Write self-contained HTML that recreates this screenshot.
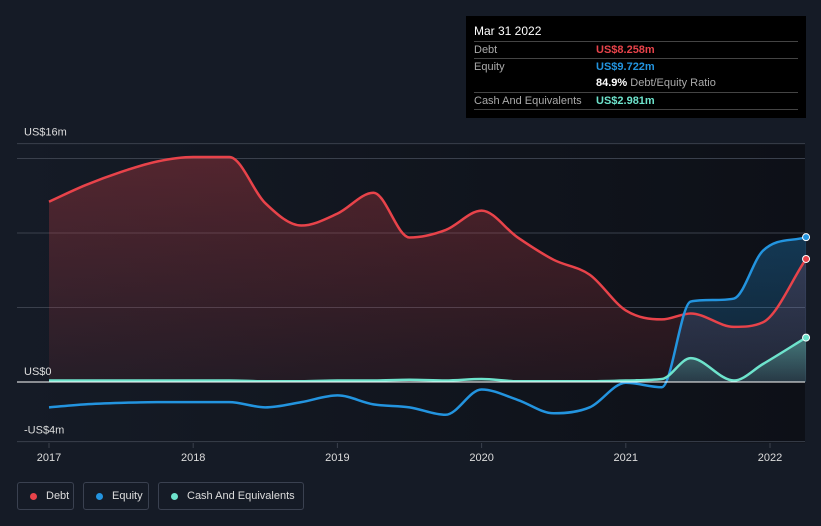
<!DOCTYPE html>
<html><head><meta charset="utf-8"><style>
body{margin:0;background:#151b26;width:821px;height:526px;overflow:hidden;font-family:"Liberation Sans",sans-serif}
#tip{position:absolute;left:466px;top:16px;width:340px;height:102px;background:#000;color:#fff;font-size:11px}
.row{position:absolute;left:8px;width:324px;border-top:1px solid #444;height:16px}
.row span{position:absolute;top:2px}
.leg{position:absolute;top:482px;height:28px;border:1px solid #3a4150;border-radius:3px;color:#ddd;font-size:11px;box-sizing:border-box}
.leg i{position:absolute;left:12px;top:10px;width:7px;height:7px;border-radius:50%}
.leg span{position:absolute;left:28px;top:7px}
</style></head><body>
<svg id="chart" width="821" height="526" style="position:absolute;left:0;top:0">
<defs>
<linearGradient id="gd" x1="0" y1="0" x2="0" y2="1"><stop offset="0" stop-color="#e8434a" stop-opacity="0.3"/><stop offset="1" stop-color="#e8434a" stop-opacity="0.08"/></linearGradient>
<linearGradient id="ge" x1="0" y1="0" x2="0" y2="1"><stop offset="0" stop-color="#2394df" stop-opacity="0.3"/><stop offset="1" stop-color="#2394df" stop-opacity="0.1"/></linearGradient>
<linearGradient id="gc" x1="0" y1="0" x2="0" y2="1"><stop offset="0" stop-color="#6ee3cc" stop-opacity="0.4"/><stop offset="1" stop-color="#6ee3cc" stop-opacity="0.1"/></linearGradient>
<linearGradient id="bg" x1="0" y1="0" x2="1" y2="0"><stop offset="0" stop-color="#151b26"/><stop offset="1" stop-color="#0d1017"/></linearGradient>
<clipPath id="pos"><rect x="0" y="0" width="821" height="382"/></clipPath>
</defs>
<rect x="17" y="143" width="788" height="300" fill="url(#bg)"/>
<g id="grid"></g><g id="areas" clip-path="url(#pos)"></g><g id="lines"></g><g id="axes"></g>
</svg>
<div id="tip">
<div style="position:absolute;left:8px;top:8px;font-size:12px">Mar 31 2022</div>
<div class="row" style="top:25px"><span style="color:#aaa">Debt</span><span style="left:122px;color:#e8434a;font-weight:bold">US$8.258m</span></div>
<div class="row" style="top:42px"><span style="color:#aaa">Equity</span><span style="left:122px;color:#2394df;font-weight:bold">US$9.722m</span></div>
<div class="row" style="top:59px;border-top:none"><span style="left:122px"><b>84.9%</b> <span style="position:static;color:#aaa">Debt/Equity Ratio</span></span></div>
<div class="row" style="top:76px"><span style="color:#aaa">Cash And Equivalents</span><span style="left:122px;color:#6ee3cc;font-weight:bold">US$2.981m</span></div>
<div class="row" style="top:93px;height:0"></div>
</div>
<div class="leg" style="left:17px;width:57px"><i style="background:#e8434a"></i><span>Debt</span></div>
<div class="leg" style="left:83px;width:66px"><i style="background:#2394df"></i><span>Equity</span></div>
<div class="leg" style="left:158px;width:146px"><i style="background:#6ee3cc"></i><span>Cash And Equivalents</span></div>
<script>
const times=[2017,2017.25,2017.5,2017.75,2018,2018.25,2018.5,2018.75,2019,2019.25,2019.5,2019.75,2020,2020.25,2020.5,2020.75,2021,2021.25,2021.45,2021.75,2021.95,2022.25];
const debt=[12.1,13.2,14.1,14.8,15.1,15.1,12.0,10.5,11.3,12.7,9.7,10.2,11.5,9.7,8.2,7.2,4.8,4.2,4.6,3.7,4.0,8.258];
const equity=[-1.7,-1.5,-1.4,-1.35,-1.35,-1.35,-1.7,-1.35,-0.9,-1.5,-1.7,-2.2,-0.5,-1.2,-2.1,-1.7,-0.05,-0.35,5.4,5.6,8.8,9.722];
const cash=[0.1,0.1,0.1,0.1,0.1,0.1,0.05,0.05,0.1,0.1,0.15,0.1,0.2,0.05,0.05,0.05,0.1,0.2,1.6,0.1,1.2,2.981];
const yTicks=[-4,0,16];const yTickLabels=["-US$4m","US$0","US$16m"];
const gridVals=[5,10,15,16];
const xTicks=[2017,2018,2019,2020,2021,2022];
const X=t=>49+(t-2017)*144.2, Y=v=>382-v*14.9;
const NS='http://www.w3.org/2000/svg';
function mk(tag,attrs,parent){const e=document.createElementNS(NS,tag);for(const k in attrs)e.setAttribute(k,attrs[k]);document.getElementById(parent).appendChild(e);return e;}
function path(vals){const p=vals.map((v,i)=>[X(times[i]),Y(v)]);const n=p.length;const m=[];
 const d=[];for(let i=0;i<n-1;i++)d.push((p[i+1][1]-p[i][1])/(p[i+1][0]-p[i][0]));
 for(let i=0;i<n;i++){if(i==0)m.push(d[0]);else if(i==n-1)m.push(d[n-2]);else if(d[i-1]*d[i]<=0)m.push(0);else{const a=d[i-1],b=d[i];let s=(a+b)/2;const lim=3*Math.min(Math.abs(a),Math.abs(b));if(Math.abs(s)>lim)s=Math.sign(s)*lim;m.push(s);}}
 let s='M'+p[0][0]+','+p[0][1];for(let i=0;i<n-1;i++){const h=(p[i+1][0]-p[i][0])/3;s+=` C${p[i][0]+h},${p[i][1]+m[i]*h} ${p[i+1][0]-h},${p[i+1][1]-m[i+1]*h} ${p[i+1][0]},${p[i+1][1]}`;}return s;}
gridVals.forEach(v=>{const g=mk('line',{x1:17,x2:805,y1:Y(v),y2:Y(v),stroke:'#3a404c','stroke-width':1},'grid');});
const b=mk('line',{x1:17,x2:805,y1:Y(-4),y2:Y(-4),stroke:'#3a404c'},'grid');
const series=[[debt,'#e8434a','url(#gd)','debt'],[equity,'#2394df','url(#ge)','equity'],[cash,'#6ee3cc','url(#gc)','cash']];
const x0=X(times[0]),x1=X(times[times.length-1]);
series.forEach(s=>{const p=path(s[0]);
 const a=mk('path',{d:p+` L${x1},${Y(0)} L${x0},${Y(0)} Z`,fill:s[2]},'areas');
 const l=mk('path',{d:p,fill:'none',stroke:s[1],'stroke-width':2.5},'lines');
 const c=mk('circle',{cx:x1,cy:Y(s[0][s[0].length-1]),r:3.5,fill:s[1],stroke:'#fff','stroke-width':1},'lines');});
const z=mk('line',{x1:17,x2:805,y1:Y(0),y2:Y(0),stroke:'#fff','stroke-width':1},'axes');
yTicks.forEach((v,i)=>{const t=mk('text',{x:24,y:Y(v)+(v==16?-8:(v==0?-7:-8)),fill:'#ddd','font-size':11,'font-family':'Liberation Sans'},'axes');t.textContent=yTickLabels[i];});
xTicks.forEach(v=>{const t=mk('text',{x:X(v),y:461,fill:'#ddd','font-size':11,'text-anchor':'middle','font-family':'Liberation Sans'},'axes');t.textContent=v;
 const k=mk('line',{x1:X(v),x2:X(v),y1:443,y2:448,stroke:'#3a404c'},'axes');});
</script>
</body></html>
